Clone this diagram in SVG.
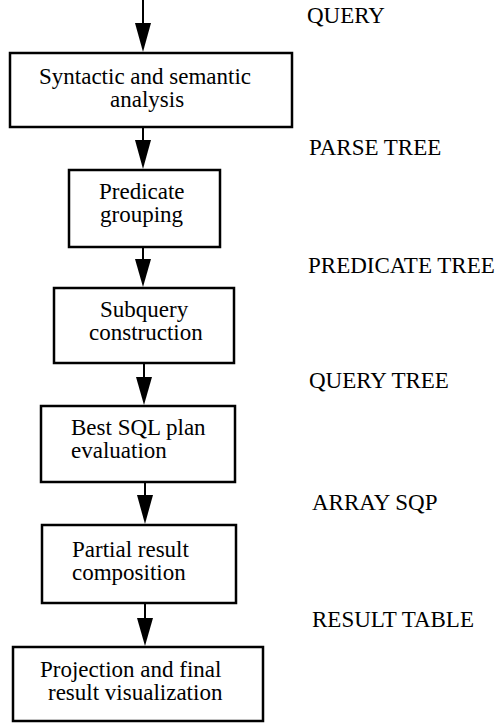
<svg xmlns="http://www.w3.org/2000/svg" width="499" height="724" viewBox="0 0 499 724">
  <defs>
    <style>
      .box { fill: #fff; stroke: #000; stroke-width: 2.5; }
      .edge { stroke: #000; stroke-width: 2; fill: none; }
      .head { fill: #000; stroke: none; }
      .lbl { font-family: "Liberation Serif", "DejaVu Serif", "Times New Roman", serif; font-size: 23px; fill: #000; }
    </style>
  </defs>

  <!-- connectors: shaft plus filled triangular head -->
  <g id="connectors">
    <line class="edge" x1="143" y1="0" x2="143" y2="30"/>
    <polygon class="head" points="135,23 151,23 143,52"/>

    <line class="edge" x1="143" y1="128" x2="143" y2="145"/>
    <polygon class="head" points="135,140 151,140 143,169"/>

    <line class="edge" x1="143" y1="248" x2="143" y2="265"/>
    <polygon class="head" points="135,259 151,259 143,287"/>

    <line class="edge" x1="144" y1="364" x2="144" y2="382"/>
    <polygon class="head" points="136,377 152,377 144,405"/>

    <line class="edge" x1="145" y1="483" x2="145" y2="500"/>
    <polygon class="head" points="137,495 153,495 145,524"/>

    <line class="edge" x1="145" y1="604" x2="145" y2="622"/>
    <polygon class="head" points="137,618 153,618 145,646"/>
  </g>

  <!-- processing steps -->
  <g id="analysis">
    <rect class="box" x="10" y="53" width="282" height="74"/>
    <text class="lbl" x="39" y="84">Syntactic and semantic</text>
    <text class="lbl" x="110" y="107">analysis</text>
  </g>

  <g id="grouping">
    <rect class="box" x="69" y="170" width="151" height="77"/>
    <text class="lbl" x="99" y="199">Predicate</text>
    <text class="lbl" x="100" y="222">grouping</text>
  </g>

  <g id="subquery">
    <rect class="box" x="54" y="288" width="180" height="75"/>
    <text class="lbl" x="100" y="317">Subquery</text>
    <text class="lbl" x="89" y="340">construction</text>
  </g>

  <g id="plan">
    <rect class="box" x="41" y="406" width="194" height="76"/>
    <text class="lbl" x="71" y="435">Best SQL plan</text>
    <text class="lbl" x="71" y="458">evaluation</text>
  </g>

  <g id="composition">
    <rect class="box" x="42" y="525" width="194" height="78"/>
    <text class="lbl" x="72" y="557">Partial result</text>
    <text class="lbl" x="72" y="580">composition</text>
  </g>

  <g id="visualization">
    <rect class="box" x="13" y="647" width="250" height="74"/>
    <text class="lbl" x="40" y="677">Projection and final</text>
    <text class="lbl" x="48" y="700">result visualization</text>
  </g>

  <!-- data passed between steps -->
  <g id="labels">
    <text class="lbl" x="307" y="23">QUERY</text>
    <text class="lbl" x="309" y="155">PARSE TREE</text>
    <text class="lbl" x="308" y="273">PREDICATE TREE</text>
    <text class="lbl" x="309" y="388">QUERY TREE</text>
    <text class="lbl" x="312" y="510">ARRAY SQP</text>
    <text class="lbl" x="312" y="627">RESULT TABLE</text>
  </g>
</svg>
